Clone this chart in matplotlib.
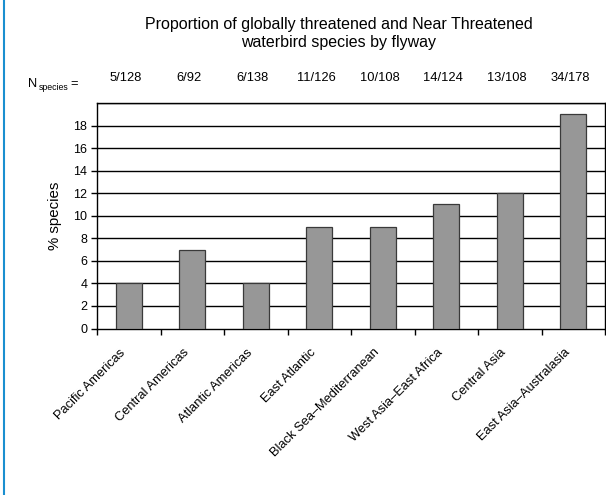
import matplotlib
matplotlib.use("Agg")
import matplotlib.pyplot as plt
from matplotlib.lines import Line2D

categories = ["Pacific Americas", "Central Americas", "Atlantic Americas", "East Atlantic",
              "Black Sea\u2013Mediterranean", "West Asia\u2013East Africa", "Central Asia",
              "East Asia\u2013Australasia"]
values = [4, 7, 4, 9, 9, 11, 12, 19]
n_species = ["5/128", "6/92", "6/138", "11/126", "10/108", "14/124", "13/108", "34/178"]
y_ticks = [0, 2, 4, 6, 8, 10, 12, 14, 16, 18]

plt.rcParams['font.family'] = ['Liberation Sans', 'DejaVu Sans']

fig = plt.figure(figsize=(6.06, 4.95), dpi=100)
ax = fig.add_axes([97/606, 1-328.5/495, 508/606, 225.5/495])

x = list(range(len(categories)))
ax.bar(x, values, width=0.41, color='#979797', edgecolor='#3a3a3a', linewidth=0.9, zorder=3)

ax.set_xlim(-0.5, len(categories) - 0.5)
ax.set_ylim(0, 20)
ax.set_yticks(y_ticks)
ax.set_yticklabels([str(t) for t in y_ticks], fontsize=9)
ax.tick_params(axis='y', direction='out', length=4.5, width=1, pad=2.5)
for t in y_ticks[1:] + [20]:
    ax.axhline(t, color='black', linewidth=1, zorder=1)

ax.set_xticks([i - 0.5 for i in range(len(categories) + 1)])
ax.set_xticklabels([])
ax.tick_params(axis='x', direction='out', length=4.5, width=1)
for i, c in enumerate(categories):
    ax.text(i - 0.15, -1.6, c, rotation=45, ha='right', va='top', rotation_mode='anchor',
            fontsize=9.3, transform=ax.transData)

for s in ax.spines.values():
    s.set_linewidth(1)
    s.set_color('black')

ax.set_ylabel('% species', fontsize=10.8, labelpad=8)

for i, n in enumerate(n_species):
    ax.text(i - 0.05, 22.2, n, ha='center', va='center', fontsize=9.3)
fig.text(28/606, 1-84/495, 'N', fontsize=9.3, ha='left', va='center')
fig.text(38.5/606, 1-88/495, 'species', fontsize=6.3, ha='left', va='center')
fig.text(74/606, 1-84/495, '=', fontsize=9.3, ha='center', va='center')

fig.text(339/606, 1-25/495, 'Proportion of globally threatened and Near Threatened',
         fontsize=11.5, ha='center', va='center')
fig.text(339/606, 1-43/495, 'waterbird species by flyway',
         fontsize=11.5, ha='center', va='center')

fig.add_artist(Line2D([4/606, 4/606], [0, 1], color='#1a8fd0', linewidth=1.5, transform=fig.transFigure))

fig.savefig('out.png', dpi=100)
